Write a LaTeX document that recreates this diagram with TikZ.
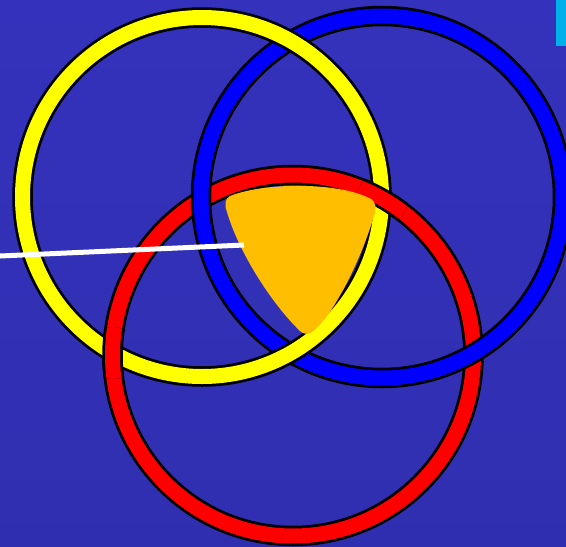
\documentclass[tikz,border=0pt]{standalone}
\definecolor{bgtop}{RGB}{52,50,188}
\definecolor{bgbot}{RGB}{48,46,176}
\definecolor{ringY}{RGB}{255,255,0}
\definecolor{ringB}{RGB}{0,0,255}
\definecolor{ringR}{RGB}{255,0,0}
\definecolor{goldfill}{RGB}{255,191,0}
\definecolor{cyanbar}{RGB}{0,176,232}
\tikzset{
  ringedge/.style={draw=black, line width=20.5pt},
  ringbody/.style={line width=15pt},
}
\newcommand{\drawmyring}[3]{%
  \draw[ringedge] (#1) circle (#3);
  \draw[ringbody, draw=#2] (#1) circle (#3);}
\begin{document}
\begin{tikzpicture}[x=1pt,y=-1pt]
\useasboundingbox (0,0) rectangle (566,547);
\shade[top color=bgtop, bottom color=bgbot] (0,0) rectangle (566,547);
\coordinate (cY) at (202,197);
\coordinate (cB) at (382,197);
\coordinate (cR) at (293,355.5);
\coordinate (xA) at (382,199);
\coordinate (xB) at (113,353);
% rings: blue over red, yellow over blue, red over yellow
\drawmyring{cR}{ringR}{180.5pt}
\drawmyring{cB}{ringB}{181pt}
\drawmyring{cY}{ringY}{179.5pt}
\begin{scope}
  \clip (xA) circle (26pt);
  \drawmyring{cR}{ringR}{180.5pt}
\end{scope}
\begin{scope}
  \clip (xB) circle (26pt);
  \drawmyring{cR}{ringR}{180.5pt}
\end{scope}
% central gold region
\fill[goldfill] (230,196) .. controls (265,182) and (340,182) .. (371,199)
  .. controls (376,202) and (376,208) .. (375,212)
  .. controls (365,250) and (335,315) .. (312,332)
  .. controls (308,335) and (303,334) .. (300,331)
  .. controls (270,302) and (238,250) .. (227,212)
  .. controls (224,204) and (225,199) .. (230,196) -- cycle;
% pointer line
\coordinate (wl) at (0,256);
\coordinate (wr) at (244,245);
\draw[white, line width=5pt] (wl) -- (wr);
% cyan bar
\fill[cyanbar] (556,0) rectangle (566,46);
\end{tikzpicture}
\end{document}
